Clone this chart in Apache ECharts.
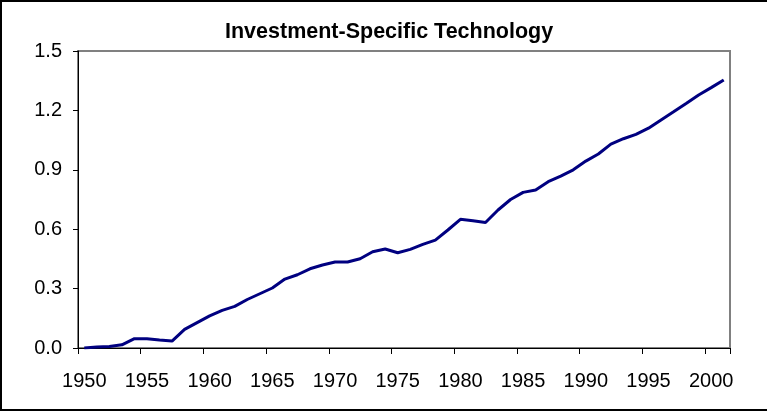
<!DOCTYPE html>
<html>
<head>
<meta charset="utf-8">
<script src="https://cdn.jsdelivr.net/npm/echarts@6/dist/echarts.min.js"></script>
<style>
html,body{margin:0;padding:0;background:#fff;}
#chart{width:767px;height:414px;}
</style>
</head>
<body>
<div id="chart"></div>
<script>
const years = ['1950','1951','1952','1953','1954','1955','1956','1957','1958','1959',
  '1960','1961','1962','1963','1964','1965','1966','1967','1968','1969',
  '1970','1971','1972','1973','1974','1975','1976','1977','1978','1979',
  '1980','1981','1982','1983','1984','1985','1986','1987','1988','1989',
  '1990','1991','1992','1993','1994','1995','1996','1997','1998','1999',
  '2000','2001'];
const technology = [0.000,0.005,0.008,0.016,0.047,0.047,0.040,0.035,0.094,0.128,
  0.162,0.190,0.210,0.245,0.274,0.303,0.348,0.370,0.400,0.419,
  0.434,0.434,0.451,0.486,0.500,0.481,0.498,0.523,0.545,0.596,
  0.650,0.643,0.634,0.697,0.750,0.786,0.798,0.840,0.868,0.900,
  0.944,0.980,1.030,1.057,1.079,1.110,1.152,1.193,1.235,1.278,
  1.315,1.354];
const yTicks = [0, 0.3, 0.6, 0.9, 1.2, 1.5];
const titleText = 'Investment-Specific Technology';

const chart = echarts.init(document.getElementById('chart'), null, {renderer: 'canvas'});
const font = 'Liberation Sans, Arial, sans-serif';
chart.setOption({
  animation: false,
  backgroundColor: '#fff',
  title: {
    text: titleText,
    left: 220,
    top: 16,
    textStyle: {fontFamily: font, fontWeight: 'bold', fontSize: 21.5, color: '#000'}
  },
  graphic: [{
    type: 'rect',
    shape: {x: 1, y: 1, width: 790, height: 409},
    style: {fill: 'none', stroke: '#000', lineWidth: 2},
    silent: true
  }],
  grid: {
    left: 78, right: 37, top: 51, bottom: 66,
    show: true, borderColor: '#808080', borderWidth: 2, backgroundColor: '#fff'
  },
  xAxis: {
    type: 'category',
    data: years,
    boundaryGap: true,
    axisLine: {show: true, lineStyle: {color: '#000', width: 1}},
    axisTick: {show: true, interval: 4, length: 6, lineStyle: {color: '#000'}},
    axisLabel: {interval: 4, margin: 23, fontFamily: font, fontSize: 20, color: '#000'},
    splitLine: {show: false}
  },
  yAxis: {
    type: 'value',
    min: yTicks[0],
    max: yTicks[yTicks.length - 1],
    interval: 0.3,
    axisLine: {show: true, lineStyle: {color: '#000', width: 1}},
    axisTick: {show: true, length: 5, lineStyle: {color: '#000'}},
    axisLabel: {margin: 16, fontFamily: font, fontSize: 20, color: '#000',
      formatter: v => v.toFixed(1)},
    splitLine: {show: false}
  },
  series: [{
    type: 'line',
    data: technology,
    symbol: 'none',
    smooth: false,
    lineStyle: {color: '#000080', width: 3},
    itemStyle: {color: '#000080'}
  }]
});
</script>
</body>
</html>
